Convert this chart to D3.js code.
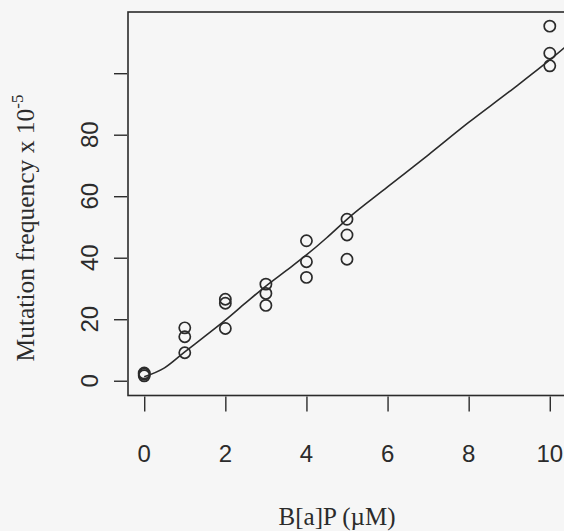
<!DOCTYPE html>
<html><head><meta charset="utf-8">
<script src="https://cdn.jsdelivr.net/npm/d3@7"></script>
<style>html,body{margin:0;padding:0;background:#f6f6f6;} svg{display:block}</style>
</head><body><svg id="chart" width="564" height="531"></svg>
<script>
// Observed mutation frequencies (x 10^-5) for each B[a]P dose (µM), three replicates per dose
const doseObs = [0,0,0, 1,1,1, 2,2,2, 3,3,3, 4,4,4, 5,5,5, 10,10,10];
const freqObs = [1.6,2.1,2.5, 17.2,14.3,9.1, 26.5,25.2,17.0, 31.4,28.4,24.5, 45.5,38.7,33.6, 52.5,47.4,39.5, 115.3,106.5,102.4];
// Smoothed dose-response curve
const fitDose = [0,0.5,1,1.5,2,2.5,3,3.5,4,4.5,5,6,7,8,9,10,10.6];
const fitFreq = [1.3,4.2,9.4,14.5,19.7,25.3,30.8,35.8,40.9,46.5,52.5,63,73.4,84,94,104.3,111];
const xTicks = [0,2,4,6,8,10];
const yTicks = [0,20,40,60,80,100];
const yTickLabels = ["0","20","40","60","80",""];

const ink = "#2b2b2b";
const plot = {left:128, top:12, right:566, bottom:395.5};

const svg = d3.select("#chart");
const x = d3.scaleLinear().domain([-0.4, 10.4]).range([plot.left, plot.right]);
const y = d3.scaleLinear().domain([-4.8, 119.9]).range([plot.bottom, plot.top]);

svg.append("defs").append("clipPath").attr("id","plotclip")
  .append("rect").attr("x",plot.left).attr("y",plot.top)
  .attr("width",plot.right-plot.left).attr("height",plot.bottom-plot.top);

// x axis
const xAxis = svg.append("g").attr("transform",`translate(0,${plot.bottom+1})`)
  .call(d3.axisBottom(x).tickValues(xTicks).tickSize(15).tickFormat(""));
xAxis.select(".domain").remove();
xAxis.selectAll("line").attr("stroke",ink).attr("stroke-width",1.4);
svg.append("g").selectAll("text").data(xTicks).join("text")
  .attr("x",d=>x(d)).attr("y",462)
  .attr("text-anchor","middle")
  .attr("font-family","'Liberation Sans', Arial, sans-serif")
  .attr("font-size",24).attr("fill",ink)
  .text(d=>d);

// y axis
const yAxis = svg.append("g").attr("transform",`translate(${plot.left-1},0)`)
  .call(d3.axisLeft(y).tickValues(yTicks).tickSize(13).tickFormat(""));
yAxis.select(".domain").remove();
yAxis.selectAll("line").attr("stroke",ink).attr("stroke-width",1.4);
svg.append("g").selectAll("text").data(yTicks).join("text")
  .attr("transform",d=>`translate(98,${y(d)}) rotate(-90)`)
  .attr("text-anchor","middle")
  .attr("font-family","'Liberation Sans', Arial, sans-serif")
  .attr("font-size",24).attr("fill",ink)
  .text((d,i)=>yTickLabels[i]);

// plot frame
svg.append("rect")
  .attr("x",plot.left).attr("y",plot.top)
  .attr("width",plot.right-plot.left).attr("height",plot.bottom-plot.top)
  .attr("fill","none").attr("stroke",ink).attr("stroke-width",1.6);

// fitted curve
const fit = fitDose.map((d,i)=>[d, fitFreq[i]]);
svg.append("path").datum(fit)
  .attr("clip-path","url(#plotclip)")
  .attr("d", d3.line().x(d=>x(d[0])).y(d=>y(d[1])).curve(d3.curveMonotoneX))
  .attr("fill","none").attr("stroke",ink).attr("stroke-width",1.6);

// observations
svg.append("g").selectAll("circle").data(doseObs).join("circle")
  .attr("cx",d=>x(d)).attr("cy",(d,i)=>y(freqObs[i]))
  .attr("r",5.6)
  .attr("fill","none").attr("stroke",ink).attr("stroke-width",1.7);

// axis titles
svg.append("text")
  .attr("x",337).attr("y",525)
  .attr("text-anchor","middle")
  .attr("font-family","'Liberation Serif', 'Times New Roman', serif")
  .attr("font-size",25).attr("fill",ink)
  .text("B[a]P (\u00b5M)");

const yt = svg.append("text")
  .attr("transform","translate(34,228) rotate(-90)")
  .attr("text-anchor","middle")
  .attr("font-family","'Liberation Serif', 'Times New Roman', serif")
  .attr("font-size",25.5).attr("fill",ink);
yt.append("tspan").text("Mutation frequency x 10");
yt.append("tspan").attr("dy",-11).attr("font-size",17).text("-5");
</script>
</body></html>
